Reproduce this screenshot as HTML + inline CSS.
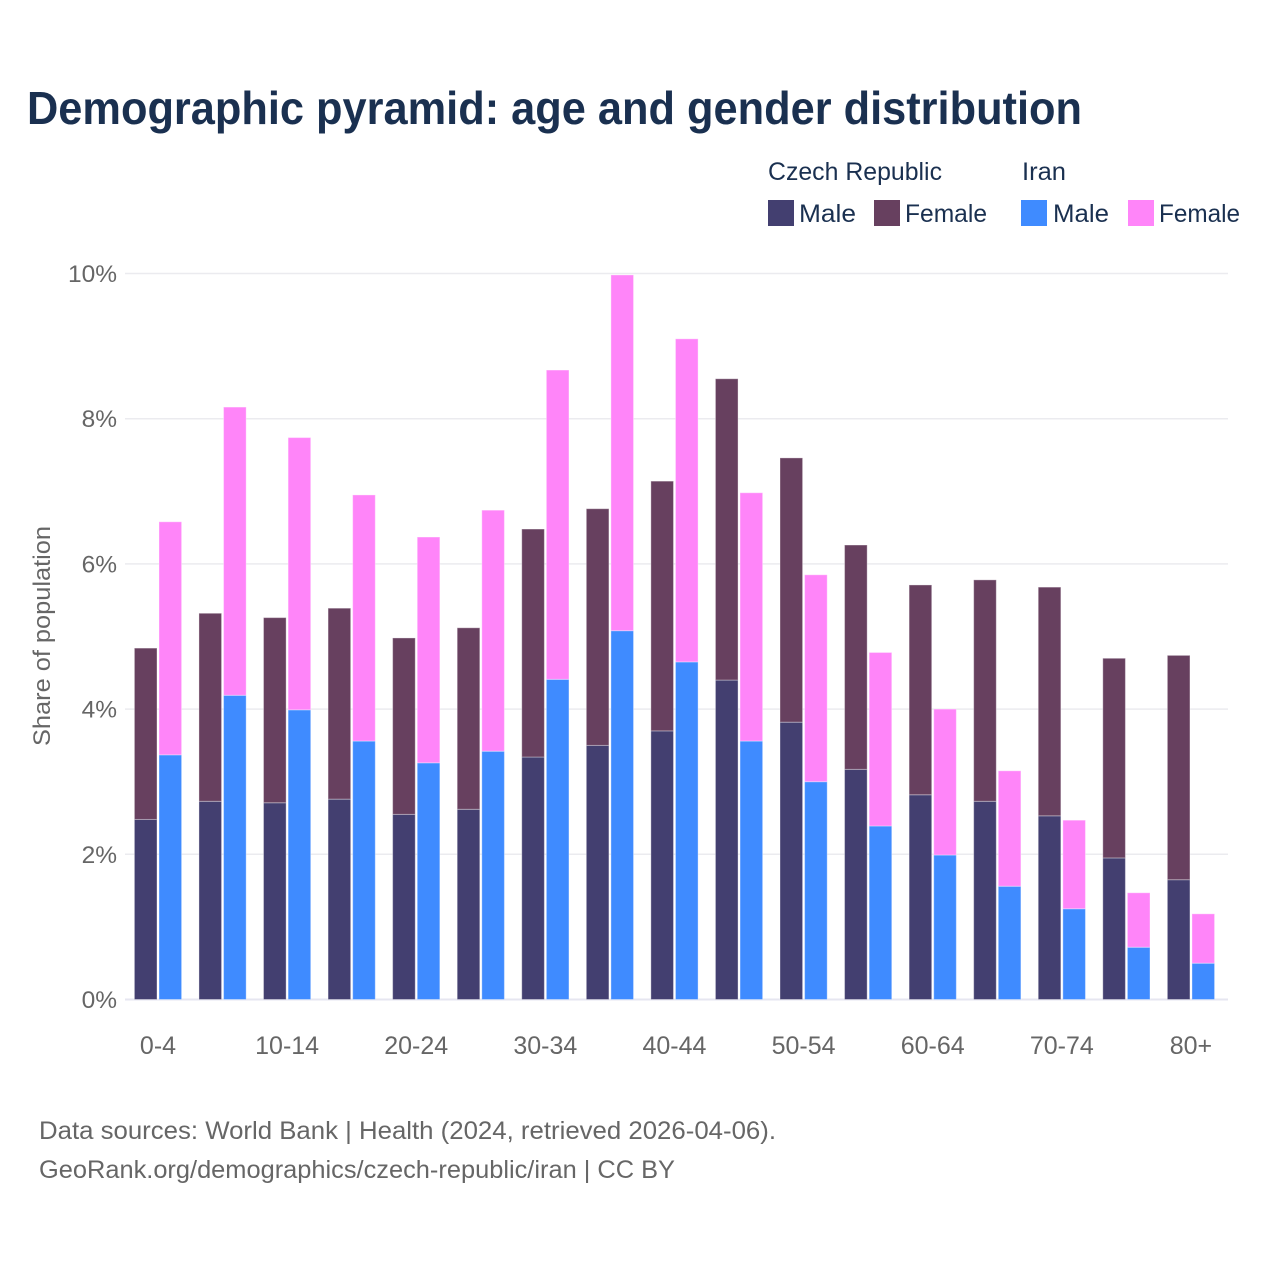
<!DOCTYPE html>
<html lang="en">
<head>
<meta charset="utf-8">
<title>Demographic pyramid</title>
<style>
html,body{margin:0;padding:0;background:#fff;width:1280px;height:1280px;overflow:hidden}
svg{display:block}
text{font-family:"Liberation Sans","DejaVu Sans",sans-serif}
</style>
</head>
<body>
<svg id="chart" width="1280" height="1280" viewBox="0 0 1280 1280" xmlns="http://www.w3.org/2000/svg">
  <rect x="0" y="0" width="1280" height="1280" fill="#ffffff"/>
  <text x="27" y="124" font-size="46" font-weight="700" fill="#1a3050" textLength="1055" lengthAdjust="spacingAndGlyphs">Demographic pyramid: age and gender distribution</text>

  <g fill="#1a3050" font-size="25">
    <text x="768" y="180" textLength="174" lengthAdjust="spacingAndGlyphs">Czech Republic</text>
    <text x="1022" y="180" textLength="44" lengthAdjust="spacingAndGlyphs">Iran</text>
    <rect x="768" y="200" width="26" height="26" fill="#433f70"/>
    <text x="799" y="222" textLength="57" lengthAdjust="spacingAndGlyphs">Male</text>
    <rect x="874" y="200" width="26" height="26" fill="#67405f"/>
    <text x="905" y="222" textLength="82" lengthAdjust="spacingAndGlyphs">Female</text>
    <rect x="1021" y="200" width="26" height="26" fill="#3f8bff"/>
    <text x="1053" y="222" textLength="56" lengthAdjust="spacingAndGlyphs">Male</text>
    <rect x="1128" y="200" width="26" height="26" fill="#ff85f9"/>
    <text x="1159" y="222" textLength="81" lengthAdjust="spacingAndGlyphs">Female</text>
  </g>

  <g id="grid"></g>
  <g id="bars"></g>
  <g id="yticks"></g>
  <g id="xticks"></g>

  <text transform="translate(50,636) rotate(-90)" text-anchor="middle" font-size="24" fill="#666666" textLength="220" lengthAdjust="spacingAndGlyphs">Share of population</text>

  <text x="39" y="1139" font-size="25" fill="#666666" textLength="737" lengthAdjust="spacingAndGlyphs">Data sources: World Bank | Health (2024, retrieved 2026-04-06).</text>
  <text x="39" y="1178" font-size="25" fill="#666666" textLength="636" lengthAdjust="spacingAndGlyphs">GeoRank.org/demographics/czech-republic/iran | CC BY</text>
</svg>
<script>
const ageGroups = ["0-4","5-9","10-14","15-19","20-24","25-29","30-34","35-39","40-44","45-49","50-54","55-59","60-64","65-69","70-74","75-79","80+"];
const czechMale = [2.48,2.73,2.71,2.76,2.55,2.62,3.34,3.50,3.70,4.40,3.82,3.17,2.82,2.73,2.53,1.95,1.65];
const czechFemale = [2.36,2.59,2.55,2.63,2.43,2.50,3.14,3.26,3.44,4.15,3.64,3.09,2.89,3.05,3.15,2.75,3.09];
const iranMale = [3.37,4.19,3.99,3.56,3.26,3.42,4.41,5.08,4.65,3.56,3.00,2.39,1.99,1.56,1.25,0.72,0.50];
const iranFemale = [3.21,3.97,3.75,3.39,3.11,3.32,4.26,4.90,4.45,3.42,2.85,2.39,2.01,1.59,1.22,0.75,0.68];
const yTickValues = [0,2,4,6,8,10];
const xTickLabels = ["0-4","10-14","20-24","30-34","40-44","50-54","60-64","70-74","80+"];

const NS = "http://www.w3.org/2000/svg";
function yScale(v){ return 999.5 - v * 72.6; }
function xCenter(i){ return 158 + i * 64.56; }
function makeBar(cx, bottom, value, color, name){
  const r = document.createElementNS(NS, "rect");
  r.setAttribute("x", cx);
  r.setAttribute("y", yScale(bottom + value));
  r.setAttribute("width", 22.6);
  r.setAttribute("height", yScale(bottom) - yScale(bottom + value));
  r.setAttribute("fill", color);
  r.setAttribute("stroke", "#ffffff");
  r.setAttribute("stroke-opacity", "0.35");
  r.setAttribute("stroke-width", "1");
  
  
  document.getElementById("bars").appendChild(r);
}
yTickValues.forEach(function(t){
  const y = yScale(t);
  const line = document.createElementNS(NS, "line");
  line.setAttribute("x1", 125);
  line.setAttribute("x2", 1228);
  line.setAttribute("y1", y);
  line.setAttribute("y2", y);
  line.setAttribute("stroke", t === 0 ? "#e6e6f0" : "#ebebef");
  line.setAttribute("stroke-width", t === 0 ? 2 : 1.5);
  
  
  document.getElementById("grid").appendChild(line);
  const label = document.createElementNS(NS, "text");
  label.setAttribute("x", 117);
  label.setAttribute("y", y + 8.5);
  label.setAttribute("text-anchor", "end");
  label.setAttribute("font-size", "24.5");
  label.setAttribute("fill", "#666666");
  
  
  label.textContent = t + "%";
  document.getElementById("yticks").appendChild(label);
});
ageGroups.forEach(function(g, i){
  const c = xCenter(i);
  makeBar(c - 23.6, 0, czechMale[i], "#433f70", "bar-czech-male");
  makeBar(c - 23.6, czechMale[i], czechFemale[i], "#67405f", "bar-czech-female");
  makeBar(c + 1, 0, iranMale[i], "#3f8bff", "bar-iran-male");
  makeBar(c + 1, iranMale[i], iranFemale[i], "#ff85f9", "bar-iran-female");
});
xTickLabels.forEach(function(lab){
  const i = ageGroups.indexOf(lab);
  const t = document.createElementNS(NS, "text");
  t.setAttribute("x", xCenter(i));
  t.setAttribute("y", 1054);
  t.setAttribute("text-anchor", "middle");
  t.setAttribute("font-size", "25");
  t.setAttribute("fill", "#666666");
  
  
  t.textContent = lab;
  document.getElementById("xticks").appendChild(t);
});
</script>
</body>
</html>
